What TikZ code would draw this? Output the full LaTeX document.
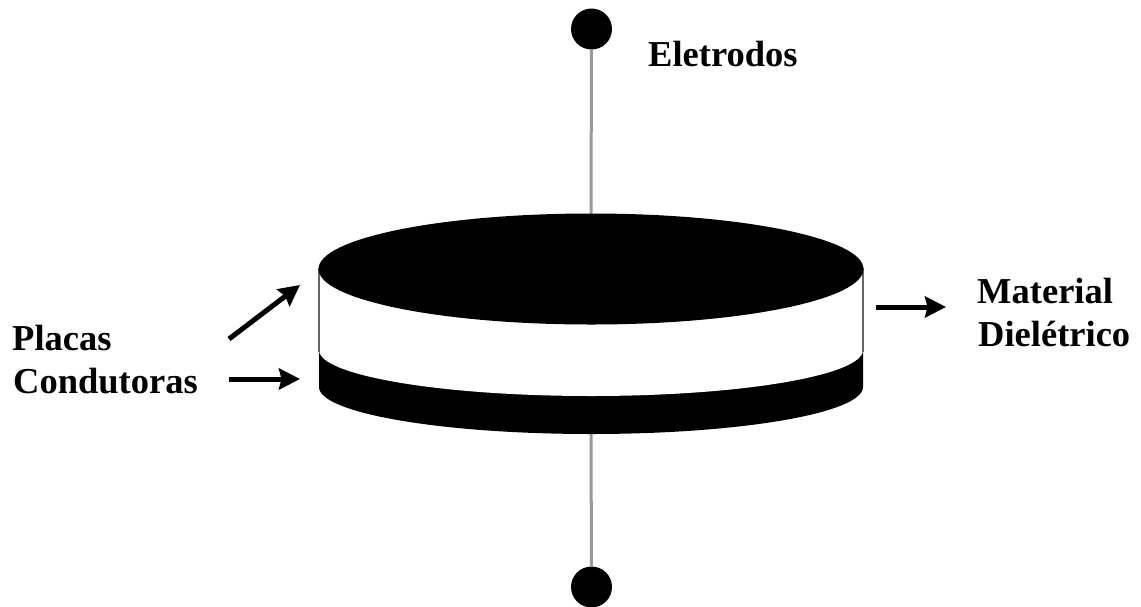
\documentclass[tikz,border=0pt]{standalone}
\usepackage{fontspec}
\setmainfont{Liberation Serif}
\usetikzlibrary{arrows.meta}
\tikzset{
  lbl/.style={font=\bfseries\fontsize{36.5}{40}\selectfont,inner sep=0pt,anchor=base west},
  arw/.style={line width=5pt,-{Stealth[length=21pt,width=21pt,inset=2.5pt]}},
  lead/.style={line width=3pt,draw=black!40},
  term/.style={circle,fill=black,minimum size=41pt,inner sep=0pt}
}
\begin{document}
\begin{tikzpicture}[x=1pt,y=-1pt]
\useasboundingbox (0,0) rectangle (1141,606);
\node[term] (t1) at (591.5,29) {};
\node[term] (t2) at (591.5,587) {};
\coordinate (top) at (591,230);
\coordinate (bot) at (591,420);
\draw[lead] (t1) -- (top);
\draw[lead] (bot) -- (t2);
% lower plate
\fill (319,350) -- (319,387) arc[start angle=180,end angle=0,x radius=272,y radius=47] -- (863,350) -- cycle;
% dielectric
\fill[white] (319,268) -- (319,350) arc[start angle=180,end angle=0,x radius=272,y radius=46] -- (863,268) -- cycle;
\draw[line width=1.3pt,draw=black!60] (319,268) -- (319,352);
\draw[line width=1.3pt,draw=black!60] (863,268) -- (863,352);
% upper plate
\fill (591,269) ellipse[x radius=272.5,y radius=55.5];
\coordinate (a1s) at (229,339);
\coordinate (a1e) at (300,285);
\coordinate (a2s) at (229,379);
\coordinate (a2e) at (300,379);
\coordinate (a3s) at (876,307);
\coordinate (a3e) at (946,307);
\draw[arw] (a1s) -- (a1e);
\draw[arw] (a2s) -- (a2e);
\draw[arw] (a3s) -- (a3e);
\node[lbl] (l1) at (648,66) {Eletrodos};
\node[lbl] (l2) at (977,303) {Material};
\node[lbl] (l3) at (978,346) {Dielétrico};
\node[lbl] (l4) at (12,350) {Placas};
\node[lbl] (l5) at (13,393) {Condutoras};
\end{tikzpicture}
\end{document}
